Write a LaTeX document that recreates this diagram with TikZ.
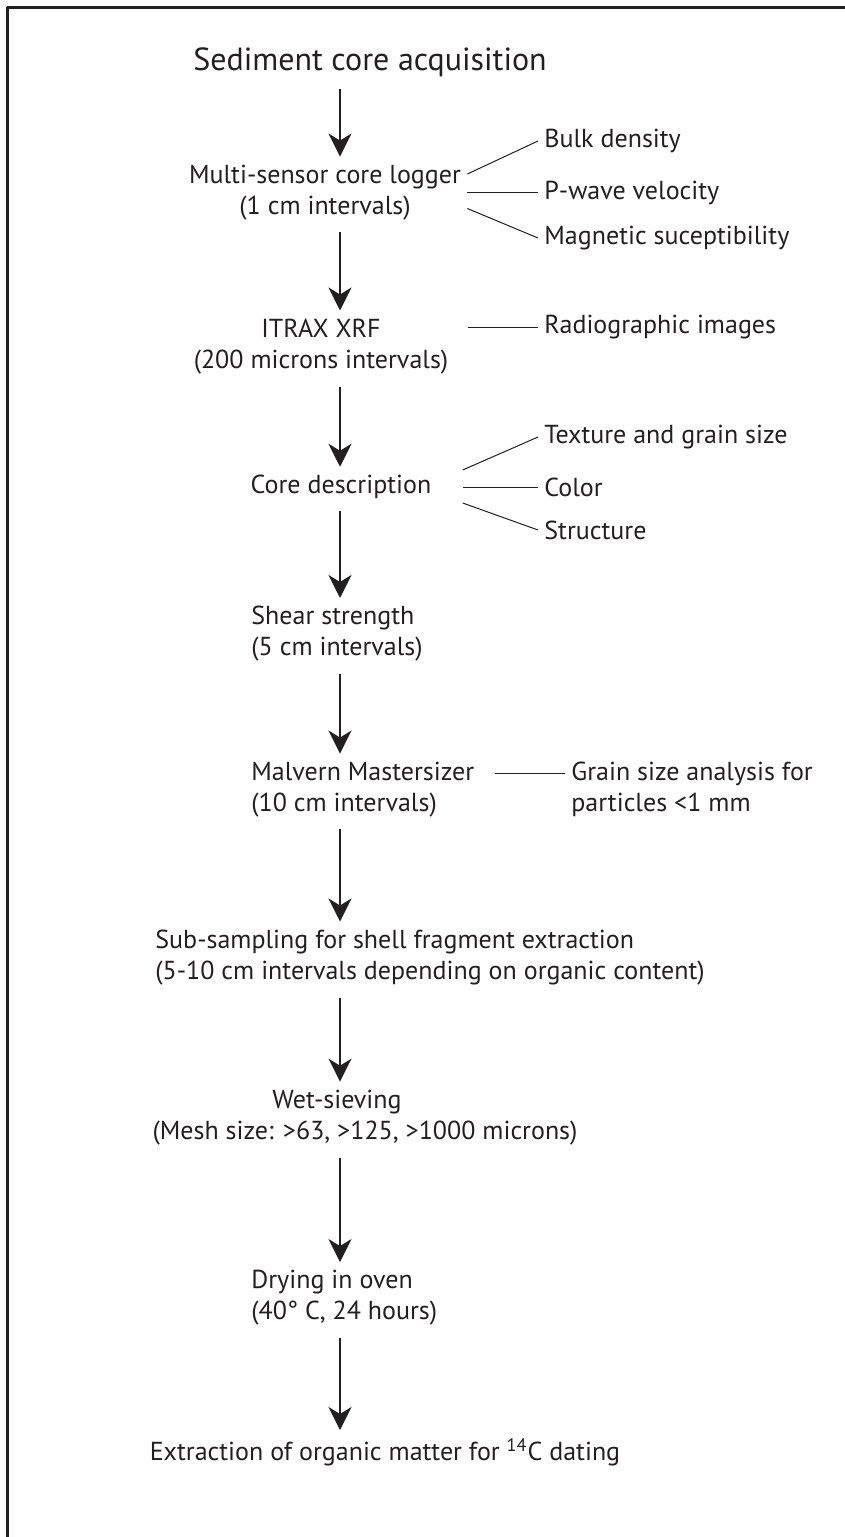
\documentclass[tikz,border=0pt]{standalone}
\usepackage{fontspec}
\setmainfont{PT Sans}
\usetikzlibrary{arrows.meta}
\definecolor{ink}{HTML}{231F20}
\begin{document}
\begin{tikzpicture}[x={(0.5pt,0)}, y={(0,-0.5pt)}, line join=round,
    stage/.style={inner sep=3pt, text=ink, font=\fontsize{13}{15.5}\selectfont},
    side/.style={stage, anchor=west, align=left},
    arr/.style={draw=ink, line width=1pt, -{Stealth[length=11.5pt,width=11.5pt,inset=3.5pt]}, shorten <=3pt, shorten >=1pt},
    branch/.style={draw=ink, line width=0.5pt}]
    \useasboundingbox (0,0) rectangle (845,1537);
    \draw[ink, line width=1.5pt] (7,1537)--(7,7.5)--(845,7.5);
    \coordinate (ax) at (340,0);
    % main column
    \node[stage, font=\fontsize{16}{19}\selectfont] (acq) at (370,62) {Sediment core acquisition};
    \node[stage, align=center] (msc) at (325,192.5) {Multi-sensor core logger\\(1 cm intervals)};
    \node[stage, align=center] (itrax) at (321,346.5) {ITRAX XRF\\(200 microns intervals)};
    \node[stage] (cored) at (341,487) {Core description};
    \node[stage, anchor=west, align=left] (shear) at (245,634) {Shear strength\\(5 cm intervals)};
    \node[stage, anchor=west, align=left] (malv) at (245,789.5) {Malvern Mastersizer\\(10 cm intervals)};
    \node[stage, anchor=west, align=left] (sub) at (149,957.5) {Sub-sampling for shell fragment extraction\\(5-10 cm intervals depending on organic content)};
    \node[stage] (wet) at (337,1102) {Wet-sieving};
    \node[stage] (mesh) at (365,1133) {(Mesh size: >63, >125, >1000 microns)};
    \node[stage, anchor=west, align=left] (dry) at (245,1298) {Drying in oven\\(40° C, 24 hours)};
    \node[stage] (ext) at (385,1452) {Extraction of organic matter for \textsuperscript{14}C dating};
    % side measurements
    \node[side] (bulk) at (538,141) {Bulk density};
    \node[side] (pwave) at (538,192.5) {P-wave velocity};
    \node[side] (mag) at (538,238) {Magnetic suceptibility};
    \node[side] (rad) at (538,327) {Radiographic images};
    \node[side] (texture) at (538,437) {Texture and grain size};
    \node[side] (color) at (538,487) {Color};
    \node[side] (struct) at (538,530) {Structure};
    \node[side] (grain) at (565,789.5) {Grain size analysis for\\particles <1 mm};
    % arrows
    \foreach \a/\b in {acq/msc,msc/itrax,itrax/cored,cored/shear,shear/malv,malv/sub,sub/wet,mesh/dry,dry/ext}
    \draw[arr](\a.south -| ax)--(\b.north -| ax);
    % branches
    \draw[branch]([yshift=9.25pt]msc.east)--(bulk.west);
    \draw[branch](msc.east)--(pwave.west);
    \draw[branch]([yshift=-8pt]msc.east)--(mag.west);
    \draw[branch, shorten <=6.5pt](rad.west -| itrax.east)--(rad.west);
    \draw[branch]([xshift=12.5pt,yshift=8.5pt]cored.east)--(texture.west);
    \draw[branch]([xshift=12.5pt]cored.east)--(color.west);
    \draw[branch]([xshift=12.5pt,yshift=-8pt]cored.east)--(struct.west);
    \draw[branch, shorten <=7.5pt]([yshift=8.25pt]malv.east)--([yshift=8.25pt]grain.west);
\end{tikzpicture}
\end{document}
